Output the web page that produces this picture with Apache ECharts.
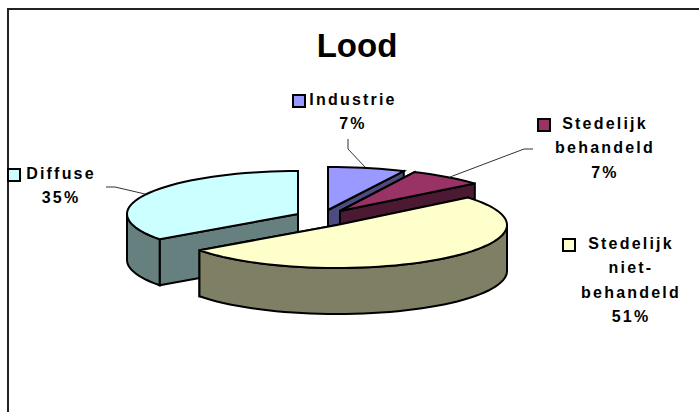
<!DOCTYPE html>
<html>
<head>
<meta charset="utf-8">
<style>
html, body { margin: 0; padding: 0; background: #fff; }
#chart { width: 699px; height: 412px; }
/* the slice labels are widely tracked in the original */
#chart svg text[style*="16px"] { letter-spacing: 2.2px; }
</style>
</head>
<body>
<div id="chart"></div>
<script src="https://cdn.jsdelivr.net/npm/echarts@6/dist/echarts.min.js"></script>
<script>
// data
const categories = ['Industrie', 'Stedelijk behandeld', 'Stedelijk niet-behandeld', 'Diffuse'];
const percents = [7, 7, 51, 35];
const labelRows = [['Industrie'], ['Stedelijk', 'behandeld'], ['Stedelijk', 'niet-', 'behandeld'], ['Diffuse']];

// styling
const topColors = ['#9999FF', '#993366', '#FFFFCC', '#CCFFFF'];
const wallColors = ['#4C4C7F', '#4C1933', '#7F7F66', '#667F7F'];

// layout of the tilted pie, the back slices look a bit wider because of the perspective
const centre = [320, 217];
const radiusX = [178, 175, 170, 171];
const radiusY = 43;
const depth = 46;
const explode = [[8, -7], [20, -6], [17, 8], [-22, -3]];
const drawOrder = [3, 0, 1, 2]; // back to front
const labelPos = [[353, 87], [605, 111], [631, 231], [61, 161]];
const keyPos = [[293, 95], [538, 119], [563, 239], [8, 169]];
const leaders = [
    [[348, 139], [348, 149], [365, 167]],
    [[533, 149], [524, 149], [450, 177]],
    null,
    [[106, 187], [115, 187], [145, 194]]
];

function rim(idx, c, deg, drop) {
    const t = deg * Math.PI / 180;
    return [c[0] + radiusX[idx] * Math.sin(t), c[1] - radiusY * Math.cos(t) + (drop || 0)];
}

function arc(idx, c, from, to, drop) {
    const pts = [];
    const n = Math.max(1, Math.ceil((to - from) / 3));
    for (let i = 0; i <= n; i++) {
        pts.push(rim(idx, c, from + (to - from) * i / n, drop));
    }
    return pts;
}

function renderSlice(params, api) {
    const idx = api.value(0);
    const share = api.value(1);
    let before = 0;
    for (let i = 0; i < idx; i++) before += percents[i];
    const start = before * 3.6;
    const end = (before + share) * 3.6;
    const c = [centre[0] + explode[idx][0], centre[1] + explode[idx][1]];
    const edge = { stroke: '#000', lineWidth: 2, lineJoin: 'miter' };
    const wall = Object.assign({ fill: wallColors[idx] }, edge);
    const children = [];

    [start, end].forEach(function (deg) {
        const r = rim(idx, c, deg);
        children.push({
            type: 'polygon',
            shape: { points: [c, r, [r[0], r[1] + depth], [c[0], c[1] + depth]] },
            style: wall
        });
    });

    const from = Math.max(start, 90);
    const to = Math.min(end, 270);
    if (to > from) {
        children.push({
            type: 'polygon',
            shape: { points: arc(idx, c, from, to).concat(arc(idx, c, from, to, depth).reverse()) },
            style: wall
        });
    }

    children.push({
        type: 'polygon',
        shape: { points: [c].concat(arc(idx, c, start, end)) },
        style: Object.assign({ fill: topColors[idx] }, edge)
    });

    if (leaders[idx]) {
        children.push({
            type: 'polyline',
            shape: { points: leaders[idx] },
            style: { stroke: '#333', lineWidth: 1, fill: null }
        });
    }

    children.push({
        type: 'rect',
        shape: { x: keyPos[idx][0], y: keyPos[idx][1], width: 12, height: 12 },
        style: Object.assign({ fill: topColors[idx] }, edge)
    });

    children.push({
        type: 'text',
        x: labelPos[idx][0],
        y: labelPos[idx][1],
        style: {
            text: labelRows[idx].concat([share + '%']).join('\n'),
            font: 'bold 16px "Liberation Sans", Arial, sans-serif',
            fill: '#000',
            textAlign: 'center',
            textVerticalAlign: 'top',
            lineHeight: 24.5
        }
    });

    return { type: 'group', children: children };
}

const chart = echarts.init(document.getElementById('chart'), null, { renderer: 'svg' });

chart.setOption({
    backgroundColor: '#fff',
    animation: false,
    title: {
        text: 'Lood',
        left: 352,
        top: 24,
        textAlign: 'center',
        textStyle: {
            color: '#000',
            fontSize: 33,
            fontWeight: 'bold',
            fontFamily: '"Liberation Sans", Arial, sans-serif'
        }
    },
    graphic: [{
        type: 'polyline',
        silent: true,
        shape: { points: [[8, 412], [8, 9], [699, 9]] },
        style: { stroke: '#222', lineWidth: 2, fill: null }
    }],
    series: [{
        type: 'custom',
        name: 'Lood',
        coordinateSystem: 'none',
        silent: true,
        data: drawOrder.map(function (i) {
            return { name: categories[i], value: [i, percents[i]] };
        }),
        renderItem: renderSlice
    }]
});
</script>
</body>
</html>
